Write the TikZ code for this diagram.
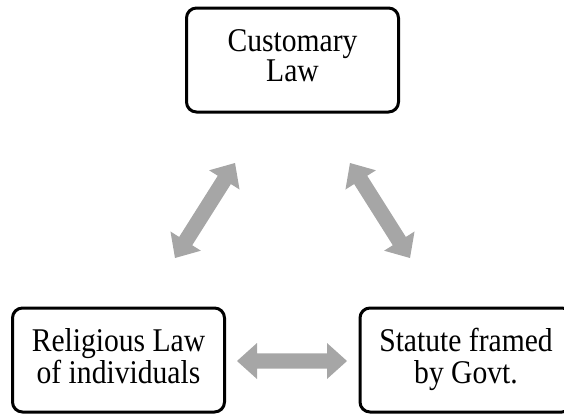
\documentclass[tikz,border=0pt]{standalone}
\usepackage{fontspec}
\usepackage{graphicx}
\setmainfont{Liberation Serif}
\usetikzlibrary{calc}
\definecolor{arrowgray}{RGB}{166,166,166}
\newcommand\myhl{15pt}
\newcommand\myhw{13.5pt}
\newcommand\mysw{5.8pt}
\newcommand\boxtext[1]{\scalebox{1}[1.12]{\fontsize{22.2}{19.4}\selectfont\begin{tabular}{@{}c@{}}#1\end{tabular}}}
\newcommand\fatarrow[2]{%
  \fill[arrowgray] (#1)
    -- ($(#1)!\myhl!(#2)!\myhw!90:(#2)$)
    -- ($(#1)!\myhl!(#2)!\mysw!90:(#2)$)
    -- ($(#2)!\myhl!(#1)!\mysw!-90:(#1)$)
    -- ($(#2)!\myhl!(#1)!\myhw!-90:(#1)$)
    -- (#2)
    -- ($(#2)!\myhl!(#1)!\myhw!90:(#1)$)
    -- ($(#2)!\myhl!(#1)!\mysw!90:(#1)$)
    -- ($(#1)!\myhl!(#2)!\mysw!-90:(#2)$)
    -- ($(#1)!\myhl!(#2)!\myhw!-90:(#2)$)
    -- cycle;}
\begin{document}
\begin{tikzpicture}[x=0.75pt,y=-0.75pt,
  lawbox/.style={draw=black, line width=2.25pt, rounded corners=7.5pt,
    minimum width=159pt, minimum height=78pt, align=center, inner sep=0pt}]
\useasboundingbox (0,0) rectangle (564,414);
\clip (0,0) rectangle (564,414);
\node[lawbox] (cust) at (292.5,60) {\boxtext{Customary\\Law}};
\node[lawbox] (rel) at (118.5,360) {\boxtext{Religious Law\\of individuals}};
\node[lawbox] (stat) at (466,360) {\boxtext{Statute framed\\by Govt.}};
\coordinate (a1) at (175,258);
\coordinate (a2) at (235,163);
\coordinate (b1) at (350,163);
\coordinate (b2) at (410,258);
\coordinate (c1) at (237,361);
\coordinate (c2) at (347,361);
\fatarrow{a1}{a2}
\fatarrow{b1}{b2}
\fatarrow{c1}{c2}
\end{tikzpicture}
\end{document}
